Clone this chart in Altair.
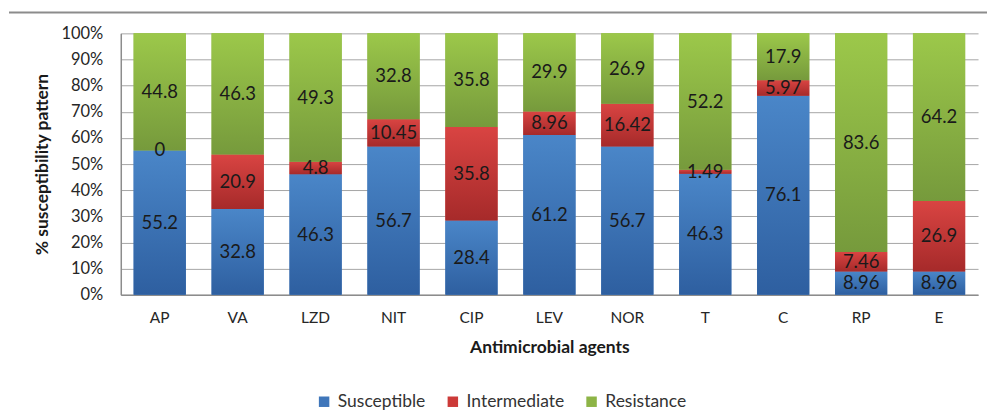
import altair as alt
import pandas as pd

agents = ["AP", "VA", "LZD", "NIT", "CIP", "LEV", "NOR", "T", "C", "RP", "E"]
series_names = ["Susceptible", "Intermediate", "Resistance"]
susceptible = [55.2, 32.8, 46.3, 56.7, 28.4, 61.2, 56.7, 46.3, 76.1, 8.96, 8.96]
intermediate = [0, 20.9, 4.8, 10.45, 35.8, 8.96, 16.42, 1.49, 5.97, 7.46, 26.9]
resistance = [44.8, 46.3, 49.3, 32.8, 35.8, 29.9, 26.9, 52.2, 17.9, 83.6, 64.2]
y_ticks = [0, 0.1, 0.2, 0.3, 0.4, 0.5, 0.6, 0.7, 0.8, 0.9, 1.0]

flat_colors = ["#3F76BA", "#CC3A38", "#8DB446"]
grad_colors = {
    "Susceptible": ("#4A86C8", "#2E5FA0"),
    "Intermediate": ("#D94442", "#A62A2A"),
    "Resistance": ("#9CC84A", "#769A3C"),
}

rows = []
for i, a in enumerate(agents):
    for k, (name, vals) in enumerate(zip(series_names, [susceptible, intermediate, resistance])):
        rows.append({"agent": a, "series": name, "order": k, "value": float(vals[i])})
df = pd.DataFrame(rows)

FONT = "Lato"

x_axis = alt.Axis(
    title="Antimicrobial agents",
    labelAngle=0,
    labelFontSize=15.5,
    labelColor="#262626",
    labelPadding=16,
    ticks=False,
    domainColor="#8c8c8c",
    domainWidth=1.5,
    titleFontSize=17.5,
    titleFontWeight="bold",
    titleColor="#1a1a1a",
    titlePadding=12,
)
x_scale = alt.Scale(paddingInner=0.33, paddingOuter=0.165)

y_axis = alt.Axis(
    title="% susceptibility pattern",
    format=".0%",
    values=y_ticks,
    labelOverlap=False,
    labelFontSize=16.5,
    labelColor="#262626",
    labelPadding=18,
    ticks=False,
    domainColor="#8c8c8c",
    domainWidth=1.5,
    grid=True,
    gridColor="#a6a6a6",
    gridWidth=1,
    titleFontSize=17.5,
    titleFontWeight="bold",
    titleColor="#1a1a1a",
    titlePadding=9,
)
y_scale = alt.Scale(domain=[0, 1], nice=False)


def xe():
    return alt.X("agent:N", sort=agents, scale=x_scale, axis=x_axis)


def ye(field):
    return alt.Y(field, scale=y_scale, axis=y_axis)


base = alt.Chart(df).transform_stack(
    stack="value",
    groupby=["agent"],
    as_=["y0", "y1"],
    offset="normalize",
    sort=[alt.SortField("order", order="ascending")],
).transform_calculate(mid="(datum.y0 + datum.y1) / 2")

bars = base.mark_bar().encode(
    x=xe(),
    y=ye("y0:Q"),
    y2="y1:Q",
    color=alt.Color(
        "series:N",
        sort=series_names,
        scale=alt.Scale(domain=series_names, range=flat_colors),
        legend=alt.Legend(
            title=None,
            orient="none",
            direction="horizontal",
            legendX=195,
            legendY=360,
            symbolType="square",
            symbolSize=110,
            symbolStrokeWidth=0,
            labelFontSize=17.5,
            labelColor="#333333",
            columnPadding=18,
            labelOffset=5,
        ),
    ),
)

overlays = []
for name in series_names:
    top, bottom = grad_colors[name]
    overlays.append(
        base.transform_filter(alt.datum.series == name)
        .mark_bar(
            fill={
                "gradient": "linear",
                "x1": 0, "y1": 0, "x2": 0, "y2": 1,
                "stops": [
                    {"offset": 0, "color": top},
                    {"offset": 1, "color": bottom},
                ],
            }
        )
        .encode(x=xe(), y=ye("y0:Q"), y2="y1:Q")
    )

labels = base.mark_text(fontSize=18.5, color="#1a1a1a", font=FONT).encode(
    x=xe(),
    y=ye("mid:Q"),
    text=alt.Text("value:Q"),
)

top_line = alt.Chart(pd.DataFrame({"a": [0]})).mark_rule(color="#8c8c8c", strokeWidth=2).encode(
    x=alt.value(-112), x2=alt.value(868), y=alt.value(-21)
)

chart = (
    alt.layer(bars, *overlays, labels, top_line)
    .properties(width=859, height=262, padding={"left": 0, "top": 3, "right": 0, "bottom": 0})
    .configure(font=FONT)
    .configure_view(stroke=None)
)

chart.save("out.html", embed_options={"renderer": "svg", "actions": False})
